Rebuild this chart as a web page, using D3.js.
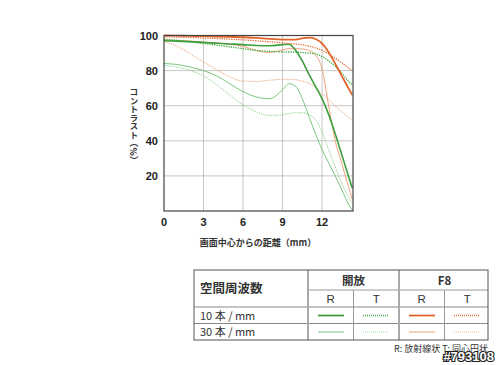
<!DOCTYPE html>
<html>
<head>
<meta charset="utf-8">
<script src="https://cdn.jsdelivr.net/npm/d3@7"></script>
<style>
  body { margin: 0; background: #fff; }
  svg { display: block; font-family: "Liberation Sans", Arial, sans-serif; }
  .jp { font-family: "Noto Sans CJK JP", sans-serif; }
</style>
</head>
<body>
<svg id="chart" width="500" height="365"></svg>
<script>
// 画面中心からの距離 (mm)
const distances = [0, 1, 2, 3, 4, 5, 6, 7, 8, 9, 9.5, 10, 10.5, 11, 11.5, 12, 12.5, 13, 13.5, 14, 14.3];

// 開放
const open10R = [97, 96.8, 96.5, 96, 95.6, 95.2, 94.8, 94.3, 94.2, 94.8, 95, 91.5, 85.5, 78, 71, 64, 55, 44, 32, 20, 13];
const open10T = [97.8, 97.2, 96.4, 95.5, 94.5, 93.5, 92.5, 91.5, 91, 90.7, 90.6, 90.5, 90.3, 90, 89.5, 88, 85.5, 82.5, 78.5, 74, 72];
const open30R = [84, 83.5, 82, 80, 77, 72.5, 68, 65, 64, 69, 72.5, 71, 64, 54, 44, 35, 27.5, 20, 12, 4, 0.5];
const open30T = [83, 82, 80, 77, 72, 66, 60.5, 56.5, 54.5, 54.8, 55.5, 56, 56, 55, 52, 45, 35, 25, 16, 8, 4.5];
// F8
const f8_10R = [100, 99.9, 99.8, 99.6, 99.4, 99.2, 99, 98.6, 98.1, 97.7, 97.6, 97.7, 98.4, 98.8, 98, 95.5, 90.5, 84, 77, 70, 66];
const f8_10T = [99.3, 99.1, 98.9, 98.6, 98.3, 97.9, 97.5, 97, 96.4, 95.8, 95.5, 95.2, 94.7, 94, 93, 91.5, 89.5, 87, 84.5, 81.5, 80];
const f8_30R = [97.5, 97.2, 96.8, 96.3, 95.8, 95, 93.8, 91.5, 90.3, 91.8, 92.5, 92.5, 92.3, 91.5, 89, 81, 60, 40, 27, 14, 6.5];
const f8_30T = [96.5, 93.8, 89.5, 85, 80.5, 76.5, 74, 73.8, 74.5, 75, 75, 74.8, 74, 72.8, 70.5, 67, 63.5, 60, 56.5, 53.5, 52];

const xTicks = [0, 3, 6, 9, 12];
const yTicks = [20, 40, 60, 80, 100];

const colGroups = ["開放", "F8"];
const colSub = ["R", "T"];
const rowLabels = ["10 本 / mm", "30 本 / mm"];

// 線の色・太さ・点線
const series = [
  { v: open30T, c: "#8fd28f", w: 1, dot: true },
  { v: open30R, c: "#7cc67c", w: 1, dot: false },
  { v: f8_30T, c: "#f0a47e", w: 1, dot: true },
  { v: f8_30R, c: "#f0a07a", w: 1, dot: false },
  { v: open10T, c: "#48ad48", w: 1.4, dot: true },
  { v: open10R, c: "#3c9e3c", w: 1.6, dot: false },
  { v: f8_10T, c: "#e0703a", w: 1.3, dot: true },
  { v: f8_10R, c: "#e0652c", w: 1.8, dot: false }
];

const svg = d3.select("#chart");
const x = d3.scaleLinear().domain([0, 14.35]).range([164, 353]);
const y = d3.scaleLinear().domain([0, 100]).range([211, 35.5]);

// グリッド
const grid = svg.append("g");
grid.selectAll("line.gx").data(xTicks.slice(1)).join("line")
  .attr("x1", d => x(d)).attr("x2", d => x(d))
  .attr("y1", y(0)).attr("y2", y(100))
  .attr("stroke", "#b8b8b8").attr("stroke-width", 0.8);
grid.selectAll("line.gy").data(yTicks.slice(0, -1)).join("line")
  .attr("x1", x(0)).attr("x2", x(14.35))
  .attr("y1", d => y(d)).attr("y2", d => y(d))
  .attr("stroke", "#b8b8b8").attr("stroke-width", 0.8);

// MTF曲線
const line = d3.line()
  .x((d, i) => x(distances[i]))
  .y(d => y(d))
  .curve(d3.curveMonotoneX);

svg.append("g").selectAll("path").data(series).join("path")
  .attr("d", d => line(d.v))
  .attr("fill", "none")
  .attr("stroke", d => d.c)
  .attr("stroke-width", d => d.w)
  .attr("stroke-dasharray", d => d.dot ? "1.3,1.1" : null);

// 枠
svg.append("rect")
  .attr("x", x(0)).attr("y", y(100))
  .attr("width", x(14.35) - x(0)).attr("height", y(0) - y(100))
  .attr("fill", "none").attr("stroke", "#444").attr("stroke-width", 1.2);

// 目盛りラベル
svg.append("g").selectAll("text").data(yTicks).join("text")
  .attr("x", 158).attr("y", d => y(d) + 4)
  .attr("text-anchor", "end")
  .attr("font-size", 11).attr("font-weight", "bold").attr("fill", "#222")
  .text(d => d);
svg.append("g").selectAll("text").data(xTicks).join("text")
  .attr("x", d => x(d)).attr("y", 226)
  .attr("text-anchor", "middle")
  .attr("font-size", 11).attr("font-weight", "bold").attr("fill", "#222")
  .text(d => d);

// 軸タイトル
svg.append("text").attr("class", "jp")
  .attr("x", 134).attr("y", 88)
  .attr("font-size", 8.5).attr("font-weight", "bold").attr("fill", "#333")
  .style("writing-mode", "vertical-rl")
  .text("コントラスト（%）");
svg.append("text").attr("class", "jp")
  .attr("x", 258).attr("y", 246)
  .attr("text-anchor", "middle")
  .attr("font-size", 9).attr("font-weight", "bold").attr("fill", "#333")
  .text("画面中心からの距離（mm）");

// 凡例の表
const tx0 = 194, tx1 = 488, tCol = 308, tGroupW = 91;
const tyTop = 270, tyMid = 290, tyHead = 307, tyRow = 323.5, tyBot = 340;
const tbl = svg.append("g");
const subX = [0, 1, 2, 3].map(i => tCol + tGroupW / 2 * i + tGroupW / 4);

tbl.append("line").attr("x1", tCol).attr("x2", tx1).attr("y1", tyMid).attr("y2", tyMid)
  .attr("stroke", "#999").attr("stroke-width", 1);
[tyHead, tyRow].forEach(yy => tbl.append("line")
  .attr("x1", tx0).attr("x2", tx1).attr("y1", yy).attr("y2", yy)
  .attr("stroke", "#888").attr("stroke-width", 1));
[tCol + tGroupW / 2, tCol + tGroupW * 1.5].forEach(xx => tbl.append("line")
  .attr("x1", xx).attr("x2", xx).attr("y1", tyMid).attr("y2", tyBot)
  .attr("stroke", "#999").attr("stroke-width", 1));
[tCol, tCol + tGroupW].forEach(xx => tbl.append("line")
  .attr("x1", xx).attr("x2", xx).attr("y1", tyTop).attr("y2", tyBot)
  .attr("stroke", "#aaa").attr("stroke-width", 2));
tbl.append("rect").attr("x", tx0).attr("y", tyTop)
  .attr("width", tx1 - tx0).attr("height", tyBot - tyTop)
  .attr("fill", "none").attr("stroke", "#555").attr("stroke-width", 1);

tbl.append("text").attr("class", "jp")
  .attr("x", 200).attr("y", 293)
  .attr("font-size", 12.5).attr("font-weight", "bold").attr("fill", "#333")
  .text("空間周波数");
tbl.selectAll("text.grp").data(colGroups).join("text")
  .attr("class", "jp")
  .attr("x", (d, i) => tCol + tGroupW * i + tGroupW / 2).attr("y", 284.5)
  .attr("text-anchor", "middle")
  .attr("font-size", 11.5).attr("font-weight", "bold").attr("fill", "#333")
  .text(d => d);
tbl.selectAll("text.sub").data(subX).join("text")
  .attr("x", d => d).attr("y", 302.5)
  .attr("text-anchor", "middle")
  .attr("font-size", 11.5).attr("fill", "#333")
  .text((d, i) => colSub[i % 2]);
tbl.selectAll("text.row").data(rowLabels).join("text")
  .attr("class", "jp")
  .attr("x", 200).attr("y", (d, i) => 319.8 + i * 16.5)
  .attr("font-size", 11).attr("fill", "#333")
  .text(d => d);

// 凡例サンプル: 開放R, 開放T, F8 R, F8 T
const legendRows = [
  [series[5], series[4], series[7], series[6]],
  [series[1], series[0], series[3], series[2]]
];
legendRows.forEach((row, r) => {
  tbl.append("g").selectAll("line").data(row).join("line")
    .attr("x1", (d, i) => Math.round(subX[i]) - 13).attr("x2", (d, i) => Math.round(subX[i]) + 13)
    .attr("y1", 315.5 + r * 16.5).attr("y2", 315.5 + r * 16.5)
    .attr("stroke", d => r === 1 ? d3.interpolateRgb(d.c, "#fff")(0.45) : d.c)
    .attr("stroke-width", d => d.dot ? 1.3 : 1.8)
    .attr("stroke-dasharray", d => d.dot ? "1,1" : null);
});

svg.append("text").attr("class", "jp")
  .attr("x", 488).attr("y", 352)
  .attr("text-anchor", "end")
  .attr("font-size", 9).attr("fill", "#333")
  .text("R: 放射線状  T: 同心円状");

svg.append("text")
  .attr("x", 494).attr("y", 361)
  .attr("text-anchor", "end")
  .attr("font-size", 13).attr("font-weight", "bold")
  .attr("fill", "#fff").attr("stroke", "#222").attr("stroke-width", 2.2)
  .attr("paint-order", "stroke")
  .text("#793108");
</script>
</body>
</html>
